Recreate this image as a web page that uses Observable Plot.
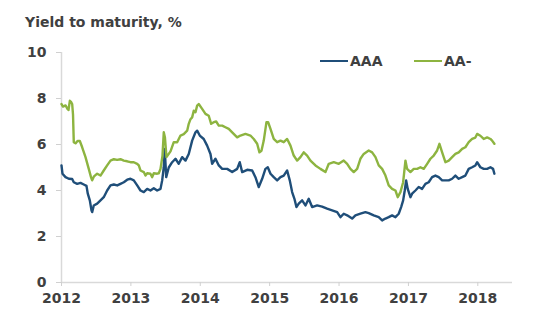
<!DOCTYPE html>
<html>
<head>
<meta charset="utf-8">
<script src="https://cdn.jsdelivr.net/npm/d3@7"></script>
<script src="https://cdn.jsdelivr.net/npm/@observablehq/plot@0.6"></script>
<style>
  html, body { margin: 0; padding: 0; background: #fff; }
  #wrap { position: relative; width: 550px; height: 325px; font-family: "DejaVu Sans", Verdana, sans-serif; }
  #title { position: absolute; left: 25px; top: 14px; font-size: 14px; font-weight: bold; color: #404040; }
  .leg { position: absolute; top: 53px; font-size: 14px; font-weight: bold; color: #404040; display: flex; align-items: center; }
  .leg span.sw { display: inline-block; width: 28px; height: 2.5px; margin-right: 2px; }
</style>
</head>
<body>
<div id="wrap">
  <div id="chart"></div>
  <div id="title"></div>
  <div id="legend"></div>
</div>
<script>
const titleText = "Yield to maturity, %";
const seriesNames = ["AAA", "AA-"];
const seriesColors = ["#1f4e79", "#8db440"];
const yTicks = [0, 2, 4, 6, 8, 10];
const xTicks = [2012, 2013, 2014, 2015, 2016, 2017, 2018];

const aaaYears = [2012.000,2012.014,2012.058,2012.105,2012.154,2012.177,2012.226,2012.274,2012.321,2012.360,2012.379,2012.408,2012.432,2012.442,2012.465,2012.514,2012.562,2012.609,2012.658,2012.706,2012.754,2012.803,2012.850,2012.898,2012.947,2012.994,2013.042,2013.091,2013.138,2013.186,2013.235,2013.282,2013.330,2013.379,2013.427,2013.451,2013.474,2013.488,2013.509,2013.546,2013.595,2013.643,2013.690,2013.739,2013.787,2013.834,2013.883,2013.931,2013.955,2013.993,2014.050,2014.099,2014.147,2014.171,2014.219,2014.267,2014.316,2014.388,2014.460,2014.532,2014.569,2014.604,2014.676,2014.748,2014.795,2014.843,2014.892,2014.939,2014.973,2015.012,2015.059,2015.108,2015.156,2015.203,2015.252,2015.290,2015.324,2015.357,2015.386,2015.419,2015.468,2015.516,2015.563,2015.612,2015.684,2015.756,2015.828,2015.900,2015.973,2016.020,2016.068,2016.117,2016.189,2016.236,2016.308,2016.380,2016.428,2016.500,2016.572,2016.621,2016.669,2016.716,2016.765,2016.813,2016.860,2016.895,2016.924,2016.947,2016.967,2016.990,2017.029,2017.053,2017.101,2017.148,2017.197,2017.245,2017.292,2017.341,2017.389,2017.437,2017.486,2017.533,2017.581,2017.630,2017.677,2017.725,2017.774,2017.821,2017.869,2017.918,2017.965,2017.990,2018.037,2018.085,2018.134,2018.182,2018.220,2018.239];
const aaaValues = [5.09,4.73,4.58,4.51,4.50,4.36,4.29,4.33,4.26,4.20,3.86,3.57,3.14,3.06,3.35,3.43,3.57,3.71,4.00,4.22,4.26,4.22,4.29,4.36,4.47,4.51,4.44,4.22,4.00,3.93,4.07,4.00,4.10,4.00,4.07,4.44,5.01,5.81,4.58,5.00,5.23,5.38,5.16,5.45,5.30,5.59,6.17,6.53,6.60,6.39,6.24,5.95,5.59,5.16,5.38,5.09,4.94,4.94,4.80,4.94,5.23,4.80,4.90,4.87,4.58,4.15,4.51,4.94,5.01,4.73,4.58,4.44,4.58,4.65,4.87,4.44,3.93,3.64,3.28,3.43,3.57,3.35,3.64,3.28,3.35,3.30,3.21,3.14,3.06,2.84,2.99,2.92,2.78,2.92,2.99,3.06,3.02,2.92,2.84,2.70,2.78,2.84,2.92,2.84,2.99,3.28,3.57,4.00,4.44,4.07,3.71,3.86,4.00,4.15,4.07,4.29,4.36,4.58,4.65,4.58,4.44,4.44,4.44,4.51,4.65,4.51,4.58,4.65,4.94,5.01,5.09,5.23,5.01,4.94,4.94,5.01,4.94,4.73];

const aaYears = [2012.000,2012.022,2012.058,2012.086,2012.101,2012.120,2012.137,2012.154,2012.166,2012.177,2012.202,2012.231,2012.264,2012.298,2012.346,2012.393,2012.425,2012.442,2012.465,2012.514,2012.562,2012.609,2012.658,2012.706,2012.754,2012.803,2012.850,2012.898,2012.947,2012.994,2013.042,2013.091,2013.114,2013.138,2013.186,2013.210,2013.235,2013.282,2013.307,2013.330,2013.379,2013.402,2013.427,2013.455,2013.474,2013.491,2013.513,2013.571,2013.618,2013.667,2013.715,2013.762,2013.811,2013.834,2013.859,2013.883,2013.906,2013.931,2013.955,2013.978,2014.027,2014.075,2014.122,2014.157,2014.195,2014.229,2014.267,2014.316,2014.363,2014.411,2014.460,2014.532,2014.579,2014.651,2014.723,2014.771,2014.820,2014.853,2014.882,2014.915,2014.954,2014.978,2015.012,2015.059,2015.108,2015.156,2015.203,2015.252,2015.300,2015.347,2015.396,2015.444,2015.491,2015.540,2015.588,2015.660,2015.732,2015.804,2015.852,2015.924,2015.996,2016.068,2016.117,2016.164,2016.212,2016.261,2016.308,2016.356,2016.428,2016.477,2016.525,2016.572,2016.621,2016.669,2016.716,2016.765,2016.813,2016.846,2016.885,2016.924,2016.957,2016.981,2017.029,2017.077,2017.126,2017.173,2017.221,2017.270,2017.317,2017.365,2017.414,2017.447,2017.486,2017.533,2017.581,2017.630,2017.677,2017.725,2017.774,2017.821,2017.869,2017.918,2017.965,2017.990,2018.037,2018.085,2018.134,2018.182,2018.206,2018.239];
const aaValues = [7.76,7.65,7.70,7.55,7.50,7.90,7.85,7.76,7.30,6.10,6.05,6.15,6.15,5.88,5.45,4.94,4.58,4.44,4.60,4.73,4.65,4.87,5.09,5.30,5.36,5.33,5.36,5.30,5.27,5.23,5.23,5.16,5.09,4.87,4.80,4.65,4.75,4.73,4.58,4.75,4.73,4.75,4.94,5.50,6.53,6.30,5.45,5.70,6.10,6.10,6.39,6.45,6.60,6.90,7.10,7.18,7.47,7.40,7.69,7.76,7.55,7.33,7.25,6.90,6.97,7.00,6.82,6.82,6.75,6.68,6.53,6.31,6.39,6.46,6.39,6.24,6.03,5.66,5.73,6.17,6.97,6.97,6.68,6.24,6.10,6.17,6.10,6.24,5.95,5.52,5.30,5.45,5.66,5.52,5.30,5.09,4.94,4.80,5.16,5.23,5.16,5.30,5.16,4.94,4.80,4.94,5.38,5.59,5.74,5.66,5.45,5.09,4.94,4.65,4.22,4.07,4.00,3.71,3.93,4.36,5.30,4.94,4.80,4.94,4.94,5.01,4.94,5.16,5.38,5.52,5.74,6.03,5.66,5.23,5.30,5.45,5.59,5.66,5.81,5.88,6.10,6.24,6.30,6.46,6.38,6.24,6.31,6.24,6.17,6.03];

const data = [
  ...aaaYears.map((t, i) => ({t, v: aaaValues[i], s: seriesNames[0]})),
  ...aaYears.map((t, i) => ({t, v: aaValues[i], s: seriesNames[1]}))
];

const chart = Plot.plot({
  width: 550,
  height: 325,
  marginLeft: 61,
  marginRight: 38,
  marginTop: 52,
  marginBottom: 43,
  style: {fontFamily: "DejaVu Sans, Verdana, sans-serif", fontSize: "14px", background: "#fff"},
  x: {domain: [2012, 2018.5]},
  y: {domain: [0, 10]},
  color: {domain: seriesNames, range: seriesColors},
  marks: [
    Plot.ruleX([2012], {stroke: "#d9d9d9", strokeWidth: 1.5}),
    Plot.ruleY([0], {stroke: "#d9d9d9", strokeWidth: 1.5}),
    Plot.axisY(yTicks, {tickSize: 5, tickPadding: 10, stroke: "#d0d0d0", fill: "#404040", fontWeight: "bold", fontSize: 14, label: null}),
    Plot.axisX(xTicks, {tickSize: 4, tickPadding: 7, stroke: "#d0d0d0", fill: "#404040", fontWeight: "bold", fontSize: 14, tickFormat: d => String(d), label: null}),
    Plot.line(data, {x: "t", y: "v", z: "s", stroke: "s", strokeWidth: 2.4, strokeLinejoin: "round"})
  ]
});
document.getElementById("chart").appendChild(chart);
document.getElementById("title").textContent = titleText;

const legendPos = [320, 414];
const legend = document.getElementById("legend");
seriesNames.forEach((name, i) => {
  const d = document.createElement("div");
  d.className = "leg";
  d.style.left = legendPos[i] + "px";
  const sw = document.createElement("span");
  sw.className = "sw";
  sw.style.background = seriesColors[i];
  d.appendChild(sw);
  d.appendChild(document.createTextNode(name));
  legend.appendChild(d);
});
</script>
</body>
</html>
